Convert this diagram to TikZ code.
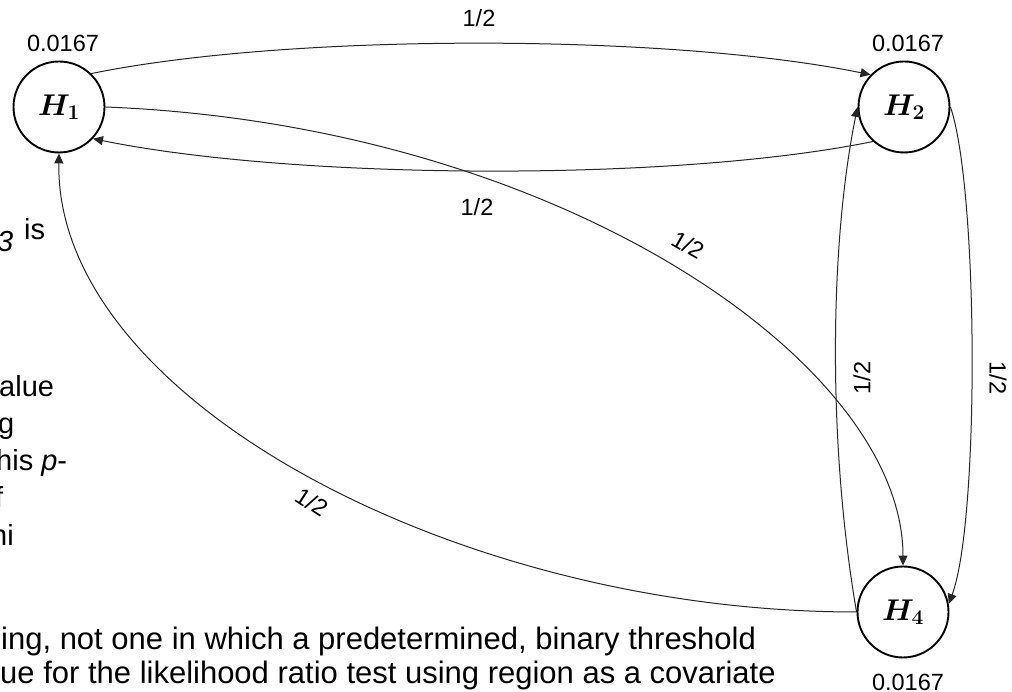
\documentclass[tikz,border=0pt]{standalone}
\usepackage{fix-cm}
\usepackage[no-math]{fontspec}
\setmainfont{Liberation Sans}
\usetikzlibrary{arrows.meta}
\begin{document}
\begin{tikzpicture}[x=1pt,y=1pt,
  state/.style={draw, line width=1.9pt, circle, minimum size=91pt, inner sep=0pt,
    font=\fontsize{30}{31}\selectfont\boldmath},
  edge/.style={line width=1pt, draw=black!85, -{Triangle[length=10pt,width=9pt]}},
  prob/.style={font=\fontsize{23.5}{26}\selectfont, inner sep=0pt},
  lbl/.style={font=\fontsize{23.5}{26}\selectfont, inner sep=0pt},
  frag/.style={font=\fontsize{29}{33}\selectfont, anchor=base west, inner sep=0pt},
  para/.style={font=\fontsize{31}{35}\selectfont, anchor=base west, inner sep=0pt}]
\clip (0,0) rectangle (1012,692);
\fill[white] (0,0) rectangle (1012,692);

% background text fragments
\node[frag] (f3) at (-3,440) {\textit{3}};
\node[frag] (fis) at (24,452) {is};
\node[frag] (falue) at (-1,295) {alue};
\node[frag] (fg) at (-2,258) {g};
\node[frag] (fhis) at (-4,221) {his \textit{p}-};
\node[frag] (ff) at (-5,184) {f};
\node[frag] (fni) at (-9,146) {ni};
\node[para] (p1) at (1,42) {ing, not one in which a predetermined, binary threshold};
\node[para] (p2) at (0,8) {ue for the likelihood ratio test using region as a covariate};

% states
\node[state] (H1) at (59,585) {$H_1$};
\node[state] (H2) at (904,585) {$H_2$};
\node[state] (H4) at (903,80) {$H_4$};

\node[prob] (p1a) at (63,649) {0.0167};
\node[prob] (p2a) at (908,649) {0.0167};
\node[prob] (p4a) at (908,10) {0.0167};

% edges
\draw[edge] (H1.46) .. controls +(200,41) and +(-200,41) .. (H2.136);
\draw[edge] (H2.-132) .. controls +(-200,-41) and +(200,-41) .. (H1.-43);
\draw[edge] (H1.east) .. controls +(455,-18) and +(0,202) .. (H4.north);
\draw[edge] (H4.west) .. controls +(-400,0) and +(-4,-245) .. (H1.south);
\draw[edge] (H2.east) .. controls +(28,-82) and +(31,84) .. (H4.10);
\draw[edge] (H4.west) .. controls +(-28,162) and +(-29,-143) .. (H2.west);

% edge labels
\node[lbl] (l12) at (479,674) {1/2};
\node[lbl] (l21) at (477,485) {1/2};
\node[lbl, rotate=-30] (l14) at (688,447) {1/2};
\node[lbl, rotate=-33] (l41) at (312,190) {1/2};
\node[lbl, rotate=-90] (l24) at (998,314) {1/2};
\node[lbl, rotate=90] (l42) at (862,314) {1/2};
\end{tikzpicture}
\end{document}
